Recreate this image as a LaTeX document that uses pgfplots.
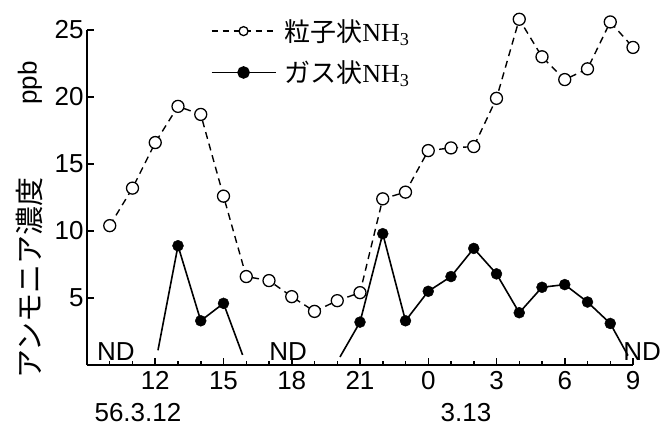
\documentclass[border=0pt]{standalone}
\usepackage{fontspec}
\setmainfont{Liberation Sans}
\newfontfamily\cjk{Noto Sans CJK JP}
\newfontfamily\serif{Liberation Serif}
\usepackage{pgfplots}
\pgfplotsset{compat=1.18}
\usetikzlibrary{calc}
\newcommand\bigf{\fontsize{26bp}{30bp}\selectfont}
\begin{document}
\begin{tikzpicture}
\begin{axis}[
  scale only axis, width=546bp, height=335bp,
  xmin=9, xmax=33, ymin=0, ymax=25,
  axis lines=left, axis line style={line width=2.2bp, -},
  clip=false,
  xtick={12,15,18,21,24,27,30,33},
  xticklabels={12,15,18,21,0,3,6,9},
  minor xtick={10,11,13,14,16,17,19,20,22,23,25,26,28,29,31,32},
  ytick={5,10,15,20,25},
  tick align=inside,
  major tick length=7bp, minor tick length=4bp,
  tick style={line width=1.5bp, black},
  ticklabel style={font=\bigf},
  xticklabel style={yshift=-3bp},
  /pgf/number format/assume math mode=true,
  legend style={at={(axis cs:14.3,26.1)}, anchor=north west, draw=none, fill=none,
    font=\bigf, row sep=14bp, cells={anchor=west}},
  legend image code/.code={\draw[mark repeat=2,mark phase=2,#1] plot coordinates {(0bp,0bp) (32bp,0bp) (64bp,0bp)};},
]
\coordinate (O) at (axis cs:9,0);
\addlegendimage{black, line width=1.4bp, dash pattern=on 6bp off 5bp, mark=*, mark options={solid, fill=white, line width=1.3bp}, mark size=4.5bp}
\addlegendentry{\hspace{6bp}{\cjk 粒子状}{\serif NH\textsubscript{3}}}
\addlegendimage{black, line width=1.6bp, mark=*, mark size=5.5bp}
\addlegendentry{\hspace{6bp}{\cjk ガス状}{\serif NH\textsubscript{3}}}
% particulate NH3
\addplot[forget plot, black, line width=1.4bp, dash pattern=on 7bp off 5bp, mark=*, mark options={solid, fill=white, line width=1.3bp}, mark size=6bp] coordinates {
(10,10.4) (11,13.2) (12,16.6) (13,19.3) (14,18.7) (15,12.6) (16,6.6) (17,6.3) (18,5.1) (19,4.0) (20,4.8) (21,5.4) (22,12.4) (23,12.9) (24,16.0) (25,16.2) (26,16.3) (27,19.9) (28,25.8) (29,23.0) (30,21.3) (31,22.1) (32,25.6) (33,23.7)};
% gaseous NH3 lines
\addplot[forget plot, black, line width=1.6bp, no marks] coordinates {(12.12,1.1) (13,8.9) (14,3.3) (15,4.6) (15.84,0.75)};
\addplot[forget plot, black, line width=1.6bp, no marks] coordinates {(20.12,0.6) (21,3.2) (22,9.8) (23,3.3) (24,5.5) (25,6.6) (26,8.7) (27,6.8) (28,3.9) (29,5.8) (30,6.0) (31,4.7) (32,3.1) (32.78,0.7)};
\addplot[forget plot, black, only marks, mark=*, mark size=5.5bp] coordinates {
(13,8.9) (14,3.3) (15,4.6) (21,3.2) (22,9.8) (23,3.3) (24,5.5) (25,6.6) (26,8.7) (27,6.8) (28,3.9) (29,5.8) (30,6.0) (31,4.7) (32,3.1)};
\node[font=\bigf] at (axis cs:10.27,1.04) {ND};
\node[font=\bigf] at (axis cs:17.84,1.04) {ND};
\node[font=\bigf] at (axis cs:33.4,1.04) {ND};
\node[font=\bigf] at (axis cs:11.24,0) [yshift=-48bp] {56.3.12};
\node[font=\bigf] at (axis cs:25.66,0) [yshift=-48bp] {3.13};
\node[font=\fontsize{29bp}{32bp}\selectfont\cjk, rotate=90] at (axis cs:6.49,6.49) {アンモニア濃度};
\node[font=\bigf, rotate=90] at (axis cs:6.49,21.04) {ppb};
\end{axis}
\pgfresetboundingbox
\path[use as bounding box] ($(O)+(-87bp,-61bp)$) rectangle ($(O)+(574bp,365bp)$);
\end{tikzpicture}
\end{document}
